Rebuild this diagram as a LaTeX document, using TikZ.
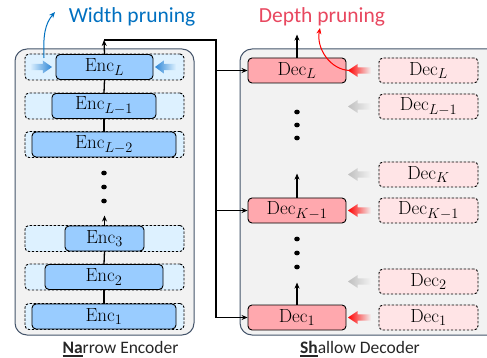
\documentclass[tikz,border=0pt]{standalone}
\usepackage{fontspec}
\newfontfamily\calibri{Carlito}
\usetikzlibrary{arrows.meta,calc}
\DeclareMathSizes{19}{19}{15}{12}
\definecolor{panelbg}{HTML}{F2F2F2}
\definecolor{panelbd}{HTML}{44546A}
\definecolor{encfill}{HTML}{99CCFF}
\definecolor{rowfill}{HTML}{DDF1FF}
\definecolor{decfill}{HTML}{FFA8AE}
\definecolor{drowfill}{HTML}{FFE4E6}
\definecolor{wblue}{HTML}{0070C0}
\definecolor{dred}{HTML}{E8475F}
\definecolor{arrblue}{HTML}{2E86D6}
\newcommand{\thul}[1]{\setbox0\hbox{#1}\rlap{\rule[-3.6pt]{\wd0}{1.8pt}}\box0}
\newcommand{\myfat}[4]{%
  \shade[#4] (#1,{#3-3.2}) -- ({#2+0.42*(#1-#2)},{#3-3.2}) -- ({#2+0.42*(#1-#2)},{#3-6.5}) -- (#2,#3)
   -- ({#2+0.42*(#1-#2)},{#3+6.5}) -- ({#2+0.42*(#1-#2)},{#3+3.2}) -- (#1,{#3+3.2}) -- cycle;}
\begin{document}
\begin{tikzpicture}[x=1pt,y=-1pt,
  panel/.style={draw=panelbd,fill=panelbg,line width=1pt,rounded corners=12pt},
  rowbox/.style={draw=black,dashed,dash pattern=on 2.4pt off 1.6pt,line width=0.9pt,fill=rowfill,rounded corners=4pt,minimum width=159pt,minimum height=26pt,inner sep=0pt},
  encbox/.style={draw=black,line width=0.9pt,fill=encfill,rounded corners=4pt,minimum height=25pt,inner sep=0pt,font=\fontsize{19}{21}\selectfont},
  decbox/.style={draw=black,line width=0.9pt,fill=decfill,rounded corners=4pt,minimum width=98pt,minimum height=25pt,inner sep=0pt,font=\fontsize{19}{21}\selectfont},
  drow/.style={draw=black,dashed,dash pattern=on 2.4pt off 1.6pt,line width=0.9pt,fill=drowfill,rounded corners=4pt,minimum width=99pt,minimum height=25pt,inner sep=0pt,font=\fontsize{19}{21}\selectfont},
  conn/.style={line width=1.3pt,black},
  arr/.style={line width=1.3pt,black,-{Stealth[length=6pt,width=5pt]}},
]
\useasboundingbox (0,0) rectangle (487,358);
\clip (0,0) rectangle (487,358);
% panels
\draw[panel] (15,49) rectangle (194,335);
\draw[panel] (240,49) rectangle (500,335);
% encoder rows
\node[rowbox] (r6) at (104.5,67) {};
\node[rowbox] (r5) at (104.5,106) {};
\node[rowbox] (r4) at (104.5,144.5) {};
\node[rowbox] (r3) at (104.5,238.5) {};
\node[rowbox] (r2) at (104.5,277) {};
\node[rowbox] (r1) at (104.5,316.5) {};
\node[encbox,minimum width=97pt] (e6) at (104.5,67) {$\mathrm{Enc}_{L}$};
\node[encbox,minimum width=104pt] (e5) at (104,106) {$\mathrm{Enc}_{L-1}$};
\node[encbox,minimum width=144pt] (e4) at (104,144.5) {$\mathrm{Enc}_{L-2}$};
\node[encbox,minimum width=79pt] (e3) at (104.5,238.5) {$\mathrm{Enc}_{3}$};
\node[encbox,minimum width=118pt] (e2) at (104,277) {$\mathrm{Enc}_{2}$};
\node[encbox,minimum width=144pt] (e1) at (104,316.5) {$\mathrm{Enc}_{1}$};
% encoder connectors
\draw[conn] (e1.north) -- (e2.south);
\draw[conn] (e2.north) -- (e3.south);
\draw[arr] (e3.north) -- ++(0,-10) coordinate (e3t);
\draw[conn] (e4.north) -- (e5.south);
\draw[conn] (e5.north) -- (e6.south);
\foreach \y in {173,187,201} \fill (104,\y) ellipse (2.8pt and 2.4pt);
% width pruning arrows
\myfat{30}{52}{67}{left color=rowfill,right color=arrblue}
\myfat{176}{155}{67}{left color=arrblue,right color=rowfill}
% decoder
\node[decbox] (dL) at (297,70.5) {$\mathrm{Dec}_{L}$};
\node[decbox] (dK1) at (297,210.5) {$\mathrm{Dec}_{K-1}$};
\node[decbox] (d1) at (297,317.5) {$\mathrm{Dec}_{1}$};
\node[drow] (xL) at (428.5,70.5) {$\mathrm{Dec}_{L}$};
\node[drow] (xL1) at (428.5,106.5) {$\mathrm{Dec}_{L-1}$};
\node[drow] (xK) at (428.5,174.5) {$\mathrm{Dec}_{K}$};
\node[drow] (xK1) at (428.5,210.5) {$\mathrm{Dec}_{K-1}$};
\node[drow] (x2) at (428.5,281.5) {$\mathrm{Dec}_{2}$};
\node[drow] (x1) at (428.5,317.5) {$\mathrm{Dec}_{1}$};
\draw[arr] (dL.north) -- ++(0,-23);
\draw[arr] (dK1.north) -- ++(0,-24);
\draw[arr] (d1.north) -- ++(0,-22);
\foreach \y in {112,125,138,239,253,267} \fill (297,\y) ellipse (2.8pt and 2.4pt);
% depth arrows
\myfat{371}{348}{70.5}{left color=red,right color=panelbg}
\myfat{371}{348}{210.5}{left color=red,right color=panelbg}
\myfat{371}{348}{317.5}{left color=red,right color=panelbg}
\myfat{371}{348}{106.5}{left color=black!25,right color=panelbg}
\myfat{371}{348}{174.5}{left color=black!25,right color=panelbg}
\myfat{371}{348}{281.5}{left color=black!25,right color=panelbg}
% bus
\draw[arr] (e6.north) -- (104,40) coordinate (top);
\coordinate (bt) at (216,40);
\draw[conn] (top) -- (bt) -- (bt |- d1.west);
\draw[arr] (bt |- dL.west) -- (dL.west);
\draw[arr] (bt |- dK1.west) -- (dK1.west);
\draw[arr] (bt |- d1.west) -- (d1.west);
% labels
\node[font=\calibri\fontsize{21.5}{24}\selectfont,text=wblue,anchor=base] (wp) at (132,22.5) {Width pruning};
\node[font=\calibri\fontsize{21.5}{24}\selectfont,text=dred,anchor=base] (dp) at (322,22.5) {Depth pruning};
\draw[wblue,line width=1pt,-{Stealth[length=6pt,width=5pt]}] (44,58) .. controls (43,35) and (45,24) .. (55,12);
\draw[red,line width=1pt,-{Stealth[length=6pt,width=5pt]}] (350,70.5) .. controls (330,70) and (316,48) .. (320,28);
\node[font=\calibri\fontsize{17.5}{20}\selectfont,text=black!85,anchor=base] (nl) at (120.5,353) {\thul{\textbf{Na}}rrow Encoder};
\node[font=\calibri\fontsize{17.5}{20}\selectfont,text=black!85,anchor=base] (sl) at (360,353) {\thul{\textbf{Sh}}allow Decoder};
\end{tikzpicture}
\end{document}
